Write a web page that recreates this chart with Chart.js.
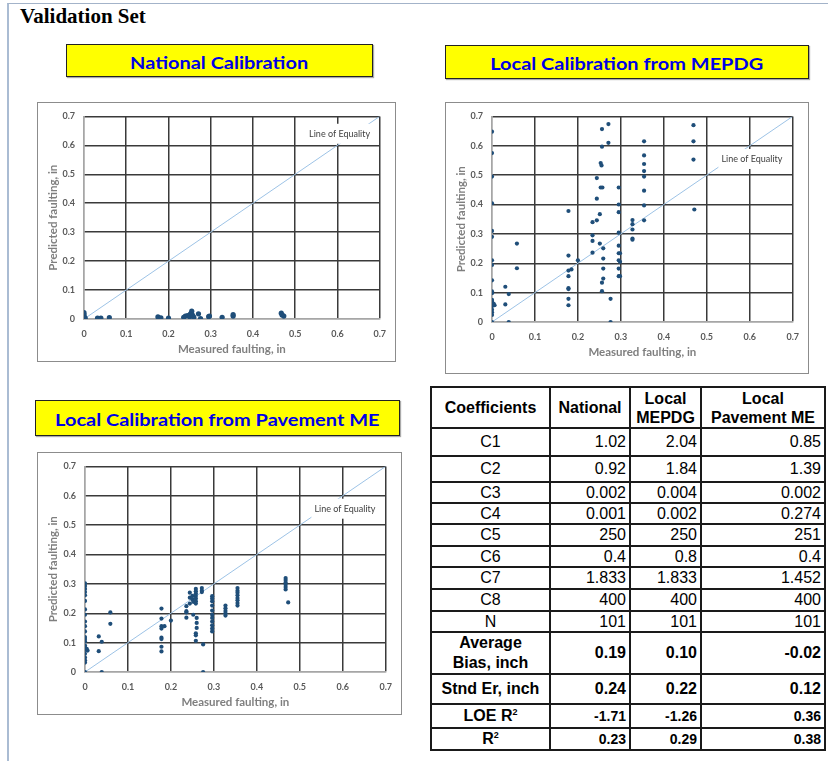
<!DOCTYPE html>
<html>
<head>
<meta charset="utf-8">
<script src="https://cdn.jsdelivr.net/npm/chart.js@4.4.1/dist/chart.umd.min.js"></script>
<style>
  body { margin: 0; width: 828px; height: 761px; position: relative; background: #fff; overflow: hidden; font-family: 'Liberation Sans', Arial, sans-serif; }
  .page { position: absolute; left: 7px; top: 3px; right: 0; bottom: 0; border-left: 2px solid #aabcd3; border-top: 1px solid #a3b3c9; }
  .heading { position: absolute; left: 20px; top: 4px; font: bold 21px 'Liberation Serif', serif; }
  .tag { position: absolute; box-sizing: border-box; background: #ffff00; border: 1px solid #222; box-shadow: 1px 1px 1px #aaa;
         color: #0000e6; font: bold 17.5px Lato, sans-serif; display: flex; align-items: center; justify-content: center; padding-top: 3px; }
  .tag span { display: inline-block; transform: scaleX(1.14); white-space: nowrap; }
  .frame { position: absolute; box-sizing: border-box; border: 1px solid #8c8c8c; pointer-events: none; }
  canvas.plot { position: absolute; }
  #coef { position: absolute; left: 430px; top: 386px; border-collapse: collapse; table-layout: fixed; }
  #coef td { border: 2px solid #1a1a1a; padding: 0 3px; font-size: 16px; color: #000; white-space: nowrap; overflow: hidden; }
  #coef td.lab { text-align: center; }
  #coef td.num { text-align: right; }
  #coef tr.head td { text-align: center; font-weight: bold; line-height: 19px; }
  #coef tr.bold td { font-weight: bold; }
  #coef tr.small td.num { font-size: 14px; }
  #coef sup { font-size: 9px; }
</style>
</head>
<body>
<div class="page"></div>
<div class="heading">Validation Set</div>

<div class="tag" style="left:66px;top:44px;width:307px;height:33px"><span>National Calibration</span></div>
<div class="tag" style="left:445px;top:45px;width:364px;height:34px"><span>Local Calibration from MEPDG</span></div>
<div class="tag" style="left:35px;top:400px;width:365px;height:36px"><span>Local Calibration from Pavement ME</span></div>

<canvas id="national" class="plot"></canvas>
<canvas id="mepdg" class="plot"></canvas>
<canvas id="pavement" class="plot"></canvas>
<div id="f-national" class="frame"></div>
<div id="f-mepdg" class="frame"></div>
<div id="f-pavement" class="frame"></div>

<table id="coef"></table>

<script>
// axis ticks, same for all three plots
const tickValues = [0, 0.1, 0.2, 0.3, 0.4, 0.5, 0.6, 0.7]
const tickLabels = ['0', '0.1', '0.2', '0.3', '0.4', '0.5', '0.6', '0.7']
const equality = [0, 0.7]

// National Calibration: measured vs predicted faulting, in
const nationalX = [0, 0, 0, 0, 0, 0.003, 0.032, 0.04, 0.06, 0.175, 0.182, 0.2, 0.236, 0.24, 0.245, 0.25, 0.252, 0.255,
  0.256, 0.258, 0.26, 0.271, 0.276, 0.295, 0.297, 0.327, 0.353, 0.353, 0.467, 0.469, 0.473]
const nationalY = [0, 0.005, 0.01, 0.015, 0.022, 0.003, 0.003, 0.003, 0.005, 0.007, 0.004, 0.003, 0.006, 0.01, 0.012, 0.008, 0.018, 0.027,
  0.015, 0.01, 0.006, 0.018, 0.001, 0.008, 0.01, 0.006, 0.01, 0.015, 0.02, 0.014, 0.01]

// Local Calibration from MEPDG
const mepdgX = [0, 0, 0, 0, 0, 0, 0, 0, 0, 0, 0, 0, 0, 0, 0, 0, 0, 0, 0, 0.004, 0.006,
  0.031, 0.031, 0.039, 0.039, 0.058, 0.058,
  0.178, 0.178, 0.178, 0.178, 0.178, 0.178, 0.178, 0.178, 0.185, 0.2,
  0.234, 0.234, 0.234, 0.234, 0.244, 0.244, 0.244, 0.251, 0.251, 0.253, 0.255, 0.253, 0.257, 0.256, 0.256, 0.256, 0.256,
  0.259, 0.259, 0.259, 0.259, 0.271, 0.271, 0.276, 0.276,
  0.295, 0.295, 0.295, 0.295, 0.295, 0.295, 0.295, 0.295, 0.295, 0.298, 0.298, 0.298,
  0.327, 0.327, 0.327, 0.327, 0.327,
  0.354, 0.354, 0.354, 0.354, 0.354, 0.354, 0.354, 0.354,
  0.469, 0.469, 0.469, 0.471]
const mepdgY = [0.648, 0.575, 0.495, 0.404, 0.31, 0.29, 0.21, 0.194, 0.142, 0.104, 0.098, 0.075, 0.07, 0.062, 0.054, 0.042, 0.033, 0.024, 0, 0.062, 0.057,
  0.12, 0.06, 0.095, 0, 0.267, 0.183,
  0.378, 0.226, 0.175, 0.156, 0.115, 0.112, 0.079, 0.057, 0.179, 0.21,
  0.34, 0.295, 0.276, 0.236, 0.49, 0.42, 0.346, 0.367, 0.267, 0.541, 0.533, 0.458, 0.458, 0.657, 0.597, 0.134, 0.105,
  0.251, 0.216, 0.182, 0.148, 0.674, 0.61, 0.079, 0,
  0.458, 0.4, 0.374, 0.304, 0.26, 0.234, 0.21, 0.182, 0.156, 0.234, 0.205, 0.156,
  0.347, 0.333, 0.315, 0.284, 0.28,
  0.615, 0.567, 0.538, 0.514, 0.495, 0.447, 0.397, 0.346,
  0.67, 0.615, 0.553, 0.383]

// Local Calibration from Pavement ME
const pavementX = [0, 0, 0, 0, 0, 0, 0, 0, 0, 0, 0, 0, 0, 0, 0, 0, 0, 0, 0, 0, 0, 0, 0.004, 0.006,
  0.032, 0.032, 0.039, 0.039, 0.059, 0.059,
  0.178, 0.178, 0.178, 0.178, 0.178, 0.178, 0.178, 0.178, 0.185, 0.2,
  0.236, 0.236, 0.236, 0.236, 0.244, 0.244, 0.244, 0.25, 0.25, 0.252, 0.252,
  0.258, 0.258, 0.258, 0.258, 0.258, 0.258, 0.258, 0.26, 0.26, 0.26, 0.258, 0.258, 0.258,
  0.272, 0.272, 0.272, 0.275, 0.275,
  0.296, 0.296, 0.296, 0.296, 0.296, 0.296, 0.296, 0.296, 0.296, 0.296, 0.296,
  0.327, 0.327, 0.327, 0.327, 0.327,
  0.355, 0.355, 0.355, 0.355, 0.355, 0.355, 0.355, 0.355,
  0.467, 0.467, 0.467, 0.467, 0.467, 0.467, 0.473]
const pavementY = [0.302, 0.293, 0.283, 0.272, 0.261, 0.242, 0.213, 0.195, 0.172, 0.156, 0.138, 0.119, 0.112, 0.104, 0.09, 0.084, 0.075, 0.062, 0.049, 0.04, 0.032, 0, 0.079, 0.073,
  0.121, 0.071, 0.103, 0, 0.203, 0.164,
  0.216, 0.182, 0.156, 0.148, 0.117, 0.112, 0.086, 0.07, 0.156, 0.175,
  0.224, 0.207, 0.203, 0.185, 0.27, 0.253, 0.233, 0.259, 0.247, 0.195, 0.239,
  0.283, 0.275, 0.267, 0.259, 0.25, 0.241, 0.233, 0.184, 0.167, 0.15, 0.132, 0.125, 0.106,
  0.286, 0.277, 0.272, 0.094, 0,
  0.258, 0.25, 0.241, 0.226, 0.209, 0.195, 0.184, 0.172, 0.159, 0.148, 0.138,
  0.226, 0.217, 0.208, 0.2, 0.192,
  0.286, 0.277, 0.27, 0.261, 0.252, 0.244, 0.235, 0.226,
  0.32, 0.313, 0.305, 0.297, 0.289, 0.281, 0.237]

// coefficient table
const coefNames = ['C1', 'C2', 'C3', 'C4', 'C5', 'C6', 'C7', 'C8', 'N', 'Average<br>Bias, inch', 'Stnd Er, inch', 'LOE R<sup>2</sup>', 'R<sup>2</sup>']
const nationalCoef = ['1.02', '0.92', '0.002', '0.001', '250', '0.4', '1.833', '400', '101', '0.19', '0.24', '-1.71', '0.23']
const mepdgCoef = ['2.04', '1.84', '0.004', '0.002', '250', '0.8', '1.833', '400', '101', '0.10', '0.22', '-1.26', '0.29']
const pavementCoef = ['0.85', '1.39', '0.002', '0.274', '251', '0.4', '1.452', '400', '101', '-0.02', '0.12', '0.36', '0.38']

const toPoints = (xs, ys) => xs.map((x, i) => ({ x: x, y: ys[i] }))

const equalityLabel = {
  id: 'equalityLabel',
  afterDatasetsDraw(chart, args, opts) {
    const ctx = chart.ctx
    const px = chart.scales.x.getPixelForValue(opts.x)
    const py = chart.scales.y.getPixelForValue(opts.y)
    ctx.save()
    ctx.font = '9px Lato'
    const w = ctx.measureText(opts.text).width
    ctx.fillStyle = '#fff'
    ctx.fillRect(px - w / 2 - 3, py - 10, w + 6, 20)
    ctx.fillStyle = '#404040'
    ctx.textAlign = 'center'
    ctx.textBaseline = 'middle'
    ctx.fillText(opts.text, px, py)
    ctx.restore()
  }
}

function axis(title, isX, size, titlePad) {
  return {
    type: 'linear',
    min: 0,
    max: 0.7,
    afterBuildTicks: a => { a.ticks = tickValues.map(v => ({ value: v })) },
    afterFit: a => { if (isX) a.height = size; else a.width = size },
    grid: {
      drawTicks: false,
      lineWidth: 1.5,
      color: c => c.index === 0 ? '#a6a6a6' : '#3a3a3a'
    },
    border: { color: '#a6a6a6', width: 1.5 },
    ticks: {
      padding: isX ? 10 : 9,
      color: '#595959',
      font: { family: 'Lato', size: 9, weight: 'bold' },
      callback: (v, i) => tickLabels[i]
    },
    title: {
      display: true,
      text: title,
      color: '#7f7f7f',
      padding: titlePad,
      font: { family: 'Lato', size: 11.5, weight: 'bold' }
    }
  }
}

function makeChart(id, frame, plot, points, radius, labelY) {
  const canvas = document.getElementById(id)
  const w = frame.r - frame.l, h = frame.b - frame.t
  canvas.width = w
  canvas.height = h
  canvas.style.left = frame.l + 'px'
  canvas.style.top = frame.t + 'px'
  const f = document.getElementById('f-' + id)
  f.style.left = frame.l + 'px'
  f.style.top = frame.t + 'px'
  f.style.width = w + 'px'
  f.style.height = h + 'px'

  new Chart(canvas, {
    type: 'scatter',
    data: {
      datasets: [
        {
          data: points,
          backgroundColor: '#1f4e79',
          borderWidth: 0,
          pointRadius: radius,
          order: 1
        },
        {
          type: 'line',
          data: toPoints(equality, equality),
          borderColor: '#9dc3e6',
          borderWidth: 1,
          pointRadius: 0,
          order: 2
        }
      ]
    },
    options: {
      responsive: false,
      animation: false,
      devicePixelRatio: 1,
      layout: {
        padding: { left: 0, top: plot.t - frame.t, right: frame.r - plot.r, bottom: frame.b - plot.b - 37 }
      },
      scales: {
        x: axis('Measured faulting, in', true, 37, { top: 0, bottom: 0 }),
        y: axis('Predicted faulting, in', false, plot.l - frame.l, { top: 9, bottom: 0 })
      },
      plugins: {
        legend: { display: false },
        tooltip: { enabled: false },
        equalityLabel: { text: 'Line of Equality', x: 0.605, y: labelY }
      }
    },
    plugins: [equalityLabel]
  })
}

makeChart('national', { l: 37, t: 102, r: 396, b: 362 }, { l: 84, t: 110, r: 387, b: 319 },
  toPoints(nationalX, nationalY), 2.6, 0.64)
makeChart('mepdg', { l: 445, t: 102, r: 809, b: 374 }, { l: 492, t: 112, r: 796, b: 322 },
  toPoints(mepdgX, mepdgY), 2.1, 0.555)
makeChart('pavement', { l: 37, t: 452, r: 402, b: 715 }, { l: 85, t: 461, r: 388, b: 672 },
  toPoints(pavementX, pavementY), 2.1, 0.556)

// table
const colWidths = [119, 80, 71, 124]
const rowHeights = [28, 26, 21, 21, 22, 21, 22, 22, 21, 41, 30, 24, 22]
let html = '<colgroup>' + colWidths.map(w => `<col style="width:${w}px">`).join('') + '</colgroup>'
html += '<tr class="head" style="height:41px"><td>Coefficients</td><td>National</td><td>Local<br>MEPDG</td><td>Local<br>Pavement ME</td></tr>'
coefNames.forEach((name, i) => {
  let cls = i >= 9 ? 'bold' : ''
  if (i >= 11) cls += ' small'
  const lh = i === 9 ? 'line-height:20px;' : ''
  html += `<tr class="${cls}" style="height:${rowHeights[i]}px"><td class="lab" style="${lh}">${name}</td>` +
    `<td class="num">${nationalCoef[i]}</td><td class="num">${mepdgCoef[i]}</td><td class="num">${pavementCoef[i]}</td></tr>`
})
document.getElementById('coef').innerHTML = html
</script>
</body>
</html>
